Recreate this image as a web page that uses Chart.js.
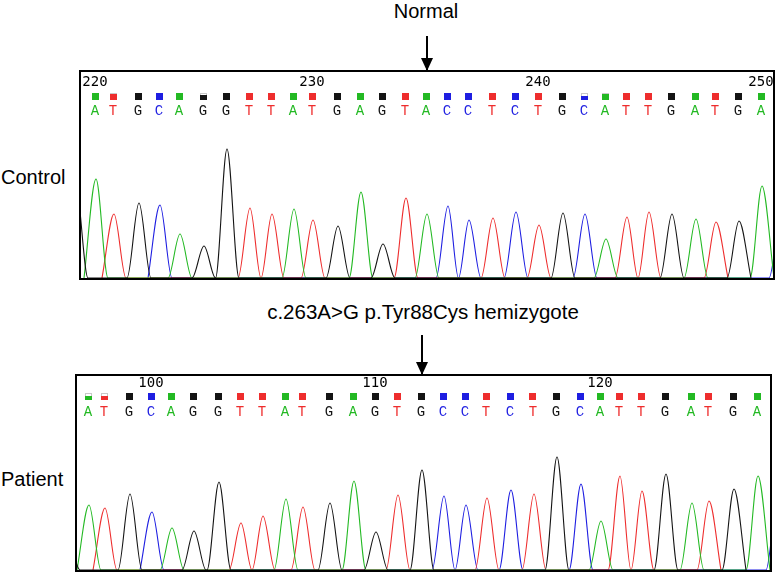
<!DOCTYPE html>
<html>
<head>
<meta charset="utf-8">
<script src="https://cdn.jsdelivr.net/npm/chart.js@4.4.0/dist/chart.umd.min.js"></script>
<style>
body { margin:0; width:778px; height:575px; background:#fff; position:relative; overflow:hidden; font-family:"Liberation Sans", Arial, sans-serif; }
.lbl { position:absolute; font-size:20px; color:#000; white-space:nowrap; line-height:24px; }
.panel { position:absolute; border:2px solid #000; box-sizing:border-box; }
.panel canvas { display:block; }
.arrow { position:absolute; width:2px; background:#000; }
.arrow:after { content:""; position:absolute; left:-5px; bottom:-1px; border-left:6px solid transparent; border-right:6px solid transparent; border-top:13px solid #000; }
</style>
</head>
<body>

<div class="lbl" style="left:326px; top:-1px; width:200px; text-align:center;">Normal</div>
<div class="arrow" style="left:426px; top:36px; height:34px;"></div>
<div class="lbl" style="left:1px; top:165px;">Control</div>
<div class="panel" style="left:79px; top:70px; width:696px; height:210px;"><canvas id="controlChart" width="692" height="206"></canvas></div>

<div class="lbl" style="left:223px; top:300px; width:400px; text-align:center; font-size:20.5px;">c.263A&gt;G p.Tyr88Cys hemizygote</div>
<div class="arrow" style="left:421px; top:335px; height:39px;"></div>
<div class="lbl" style="left:1px; top:467px;">Patient</div>
<div class="panel" style="left:75px; top:374px; width:697px; height:198px;"><canvas id="patientChart" width="693" height="194"></canvas></div>

<script>
const BASE_COLORS = { A: 'rgb(35,185,35)', C: 'rgb(30,30,225)', G: 'rgb(20,20,20)', T: 'rgb(238,45,45)' };
const HALF_W = 12;

// control trace, first called base is 220
const controlStart = 220;
const controlBases = ['A','T','G','C','A','G','G','T','T','A','T','G','A','G','T','A','C','C','T','C','T','G','C','A','T','T','G','A','T','G','A'];
const controlPos = [96,114,139,160,180,204,227,250,272,294,313,338,361,383,406,427,448,469,493,516,539,563,585,606,627,649,672,696,716,739,762];
const controlHeights = [99,64,75,73,44,32,129,70,64,69,58,52,86,34,80,64,72,58,60,66,53,65,64,39,61,66,64,59,56,57,92];
const controlQuality = [1,0.8,1,1,1,0.75,1,1,1,1,1,1,1,1,1,1,1,1,1,1,1,1,0.5,0.8,1,1,1,1,1,1,1];
// peaks cut off by the panel edges
const controlEdgeBases = ['G','C'];
const controlEdgePos = [76,781];
const controlEdgeHeights = [90,60];

// patient trace, first called base is 97
const patientStart = 97;
const patientBases = ['A','T','G','C','A','G','G','T','T','A','T','G','A','G','T','G','C','C','T','C','T','G','C','A','T','T','G','A','T','G','A'];
const patientPos = [89,105,130,152,172,194,219,241,263,286,303,330,354,376,398,422,444,466,487,511,534,557,581,601,620,642,666,692,709,734,758];
const patientHeights = [65,62,76,58,42,39,88,47,54,71,63,67,89,38,75,100,74,65,72,80,76,113,86,49,94,79,96,67,69,81,94];
const patientQuality = [0.5,0.5,1,1,1,1,1,1,1,1,1,1,1,1,1,1,1,1,1,1,1,1,1,1,1,1,1,1,1,1,1];
const patientEdgeBases = ['G','C'];
const patientEdgePos = [68,778];
const patientEdgeHeights = [30,75];

function channelPoints(base, bases, pos, heights) {
    const peaks = [];
    bases.forEach(function(b, i){
        if (b === base) peaks.push([pos[i], heights[i]]);
    });
    peaks.sort(function(a, b){ return a[0] - b[0]; });
    const pts = [];
    peaks.forEach(function(p){
        const left = p[0] - HALF_W;
        const last = pts[pts.length - 1];
        if (last && last.x > left) {
            last.x = (last.x + left) / 2;   // neighbouring peaks share the valley
        } else {
            pts.push({x: left, y: 0});
        }
        pts.push({x: p[0], y: p[1]});
        pts.push({x: p[0] + HALF_W, y: 0});
    });
    return pts;
}

// quality squares, letters and position numbers above the trace
function baseCallRows(p) {
    return {
        id: 'baseCalls',
        afterDatasetsDraw(chart) {
            const ctx = chart.ctx, xs = chart.scales.x, top = chart.chartArea.top;
            ctx.save();
            ctx.textAlign = 'center';
            ctx.textBaseline = 'middle';
            p.bases.forEach(function(b, i){
                const x = xs.getPixelForValue(p.pos[i]) - 1;
                const sx = Math.round(x - 3.5), sy = Math.round(top + p.squareRow - 3.5);
                const q = p.quality[i];
                if (q < 1) {
                    ctx.strokeStyle = '#c8c8c8';
                    ctx.lineWidth = 1;
                    ctx.strokeRect(sx + 0.5, sy + 0.5, 6, 6);
                }
                const fh = Math.round(7 * q);
                ctx.fillStyle = BASE_COLORS[b];
                ctx.fillRect(sx, sy + 7 - fh, 7, fh);
                ctx.font = '14px "Liberation Mono", monospace';
                ctx.fillText(b, x, top + p.letterRow);
                if ((p.start + i) % 10 === 0) {
                    ctx.fillStyle = '#000';
                    ctx.font = '14px "DejaVu Sans Mono", monospace';
                    ctx.fillText(String(p.start + i), x, top + p.numberRow);
                }
            });
            ctx.restore();
        }
    };
}

function makePanel(id, p) {
    const bases = p.bases.concat(p.edgeBases);
    const pos = p.pos.concat(p.edgePos);
    const hts = p.heights.concat(p.edgeHeights);
    const datasets = ['G','A','T','C'].map(function(b){
        return {
            label: b,
            data: channelPoints(b, bases, pos, hts),
            borderColor: BASE_COLORS[b],
            borderWidth: 1.1,
            pointRadius: 0,
            cubicInterpolationMode: 'monotone',
            fill: false
        };
    });
    return new Chart(document.getElementById(id), {
        type: 'line',
        data: { datasets: datasets },
        options: {
            responsive: false,
            animation: false,
            devicePixelRatio: 1,
            layout: { padding: 0 },
            plugins: { legend: { display: false }, tooltip: { enabled: false } },
            scales: {
                x: { type: 'linear', display: false, min: p.xMin, max: p.xMax },
                y: { display: false, min: 0, max: p.yMax }
            }
        },
        plugins: [baseCallRows(p)]
    });
}

makePanel('controlChart', {
    start: controlStart, bases: controlBases, pos: controlPos, heights: controlHeights, quality: controlQuality,
    edgeBases: controlEdgeBases, edgePos: controlEdgePos, edgeHeights: controlEdgeHeights,
    xMin: 81, xMax: 773, yMax: 206,
    numberRow: 10.5, squareRow: 24.5, letterRow: 39.5
});

makePanel('patientChart', {
    start: patientStart, bases: patientBases, pos: patientPos, heights: patientHeights, quality: patientQuality,
    edgeBases: patientEdgeBases, edgePos: patientEdgePos, edgeHeights: patientEdgeHeights,
    xMin: 77, xMax: 770, yMax: 194,
    numberRow: 7, squareRow: 20, letterRow: 36
});
</script>
</body>
</html>
